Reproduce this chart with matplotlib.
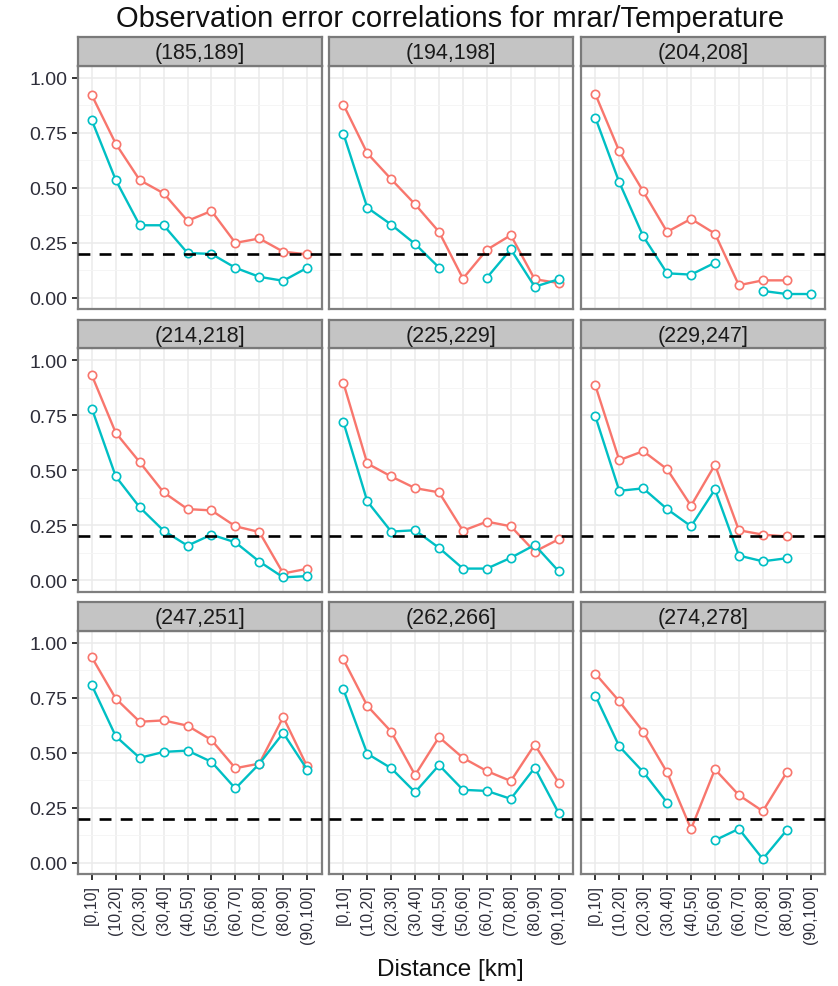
import matplotlib
matplotlib.use('Agg')
import matplotlib.pyplot as plt
import numpy as np

plt.rcParams['font.family'] = ['Liberation Sans', 'DejaVu Sans']

nan = np.nan

# distance bins (x categories)
bins = ['[0,10]', '(10,20]', '(20,30]', '(30,40]', '(40,50]',
        '(50,60]', '(60,70]', '(70,80]', '(80,90]', '(90,100]']

panels = ['(185,189]', '(194,198]', '(204,208]',
          '(214,218]', '(225,229]', '(229,247]',
          '(247,251]', '(262,266]', '(274,278]']

# red series per panel
red = [
    [0.92, 0.70, 0.535, 0.475, 0.35, 0.395, 0.25, 0.27, 0.21, 0.198],
    [0.878, 0.657, 0.539, 0.425, 0.30, 0.088, 0.219, 0.285, 0.085, 0.068],
    [0.925, 0.666, 0.484, 0.30, 0.359, 0.292, 0.058, 0.080, 0.080, nan],
    [0.931, 0.670, 0.537, 0.400, 0.324, 0.318, 0.246, 0.220, 0.032, 0.053],
    [0.897, 0.531, 0.472, 0.419, 0.400, 0.226, 0.267, 0.246, 0.131, 0.187],
    [0.885, 0.546, 0.587, 0.505, 0.339, 0.525, 0.228, 0.208, 0.200, nan],
    [0.933, 0.746, 0.641, 0.647, 0.623, 0.558, 0.430, 0.451, 0.662, 0.438],
    [0.924, 0.713, 0.596, 0.399, 0.571, 0.477, 0.417, 0.372, 0.537, 0.365],
    [0.859, 0.734, 0.596, 0.411, 0.154, 0.425, 0.308, 0.235, 0.411, nan],
]

# cyan series per panel
cyan = [
    [0.806, 0.535, 0.330, 0.330, 0.204, 0.200, 0.137, 0.096, 0.078, 0.137],
    [0.746, 0.410, 0.333, 0.245, 0.138, nan, 0.092, 0.221, 0.051, 0.085],
    [0.818, 0.525, 0.280, 0.112, 0.106, 0.160, nan, 0.032, 0.018, 0.018],
    [0.780, 0.472, 0.332, 0.226, 0.158, 0.208, 0.173, 0.086, 0.014, 0.020],
    [0.719, 0.359, 0.222, 0.228, 0.148, 0.054, 0.054, 0.103, 0.161, 0.042],
    [0.745, 0.407, 0.418, 0.324, 0.246, 0.413, 0.113, 0.087, 0.101, nan],
    [0.806, 0.575, 0.477, 0.504, 0.510, 0.459, 0.338, 0.450, 0.590, 0.424],
    [0.788, 0.496, 0.430, 0.321, 0.444, 0.332, 0.327, 0.291, 0.432, 0.227],
    [0.759, 0.529, 0.413, 0.274, nan, 0.103, 0.155, 0.018, 0.149, nan],
]

threshold = 0.2

W, H = 838, 987
fig = plt.figure(figsize=(W / 100, H / 100), dpi=100)

lefts = [77.5, 329, 581]
bottoms = [310, 592.5, 875]
pw, ph = 244, 243.5
sh = 28.5

x = np.arange(1, len(bins) + 1)

for k, name in enumerate(panels):
    r, c = divmod(k, 3)
    l = lefts[c]
    b = bottoms[r]
    ax = fig.add_axes([l / W, 1 - b / H, pw / W, ph / H])
    ax.set_xlim(0.4, 10.6)
    ax.set_ylim(-0.05, 1.055)
    ax.set_yticks([0, 0.25, 0.5, 0.75, 1.0])
    ax.set_yticks([0.125, 0.375, 0.625, 0.875], minor=True)
    ax.set_xticks(x)
    ax.grid(True, which='major', color='#EBEBEB', linewidth=1.1, zorder=0)
    ax.grid(True, which='minor', axis='y', color='#F4F4F4', linewidth=0.6, zorder=0)
    ax.set_axisbelow(True)
    for sp in ax.spines.values():
        sp.set_color('#7F7F7F')
        sp.set_linewidth(1.6)

    ax.plot(x, red[k], '-o', color='#F8766D', lw=1.7, ms=6,
            mfc='white', mew=1.2, zorder=3)
    ax.plot(x, cyan[k], '-o', color='#00BFC4', lw=1.7, ms=6,
            mfc='white', mew=1.2, zorder=4)
    ax.axhline(threshold, color='black', lw=1.9, ls=(0, (4.5, 3.5)), zorder=5)

    ax.tick_params(which='minor', length=0)
    ax.tick_params(which='major', length=4, width=1.4, color='#333333')
    if c == 0:
        ax.set_yticklabels(['0.00', '0.25', '0.50', '0.75', '1.00'],
                           fontsize=14, color='#2E2E3A')
    else:
        ax.tick_params(axis='y', length=0, labelleft=False)
    if r == 2:
        ax.set_xticklabels(bins, rotation=90, fontsize=11.5, color='#2E2E3A')
    else:
        ax.tick_params(axis='x', length=0, labelbottom=False)

    # facet strip
    sax = fig.add_axes([l / W, 1 - (b - ph) / H, pw / W, sh / H])
    sax.set_facecolor('#C4C4C4')
    sax.set_xticks([])
    sax.set_yticks([])
    for sp in sax.spines.values():
        sp.set_color('#7A7A7A')
        sp.set_linewidth(1.6)
    sax.text(0.5, 0.45, name, ha='center', va='center', fontsize=15.5,
             color='#1A1A1A', transform=sax.transAxes)

fig.text(450 / W, 1 - 19 / H, 'Observation error correlations for mrar/Temperature',
         ha='center', va='center', fontsize=21, color='#111111')
fig.text(450 / W, 1 - 970 / H, 'Distance [km]', ha='center', va='center',
         fontsize=17.5, color='#111111')

fig.savefig('out.png', dpi=100)
